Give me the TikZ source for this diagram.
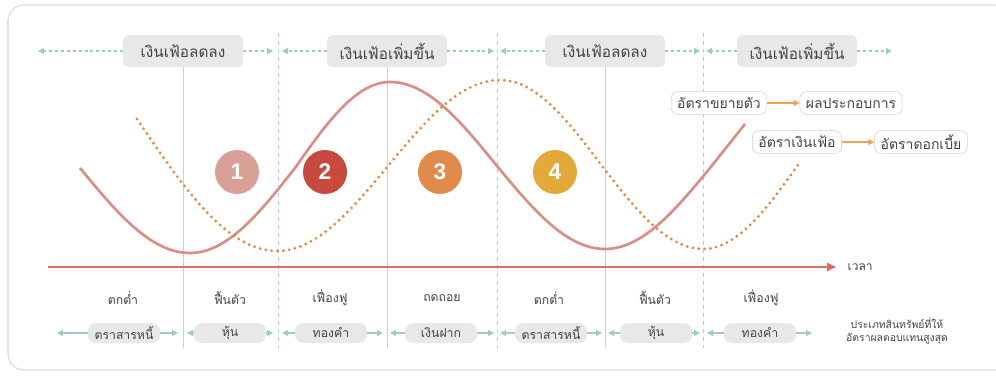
\documentclass[tikz,border=0pt]{standalone}
\usepackage{fontspec}
\setmainfont{Liberation Sans}
\newfontfamily\thaifont[Script=Thai]{Loma}
\newfontfamily\numfont{Liberation Sans}
\usetikzlibrary{arrows.meta}
\definecolor{txtgray}{HTML}{444444}
\definecolor{boxgray}{HTML}{E8E8E8}
\definecolor{linegray}{HTML}{CFCFCF}
\definecolor{sepblue}{HTML}{B9C9D2}
\definecolor{mint}{HTML}{9FCDB9}
\definecolor{growthred}{HTML}{D98E87}
\definecolor{inforange}{HTML}{E08A47}
\definecolor{axisred}{HTML}{DA6E66}
\definecolor{keyorange}{HTML}{F0A455}
\definecolor{phaseA}{HTML}{D9A097}
\definecolor{phaseB}{HTML}{C8493D}
\definecolor{phaseC}{HTML}{E08A4C}
\definecolor{phaseD}{HTML}{E2AA3B}

\begin{document}
\begin{tikzpicture}[x=0.75pt, y=-0.75pt, font=\thaifont, text=txtgray,
      >={Triangle[length=4.5pt,width=4.5pt]},
      phase/.style={fill=boxgray, rounded corners=4pt, minimum width=90pt, minimum height=24pt, font=\thaifont\fontsize{11.5}{13}\selectfont},
      asset/.style={fill=boxgray, rounded corners=6pt, minimum width=54pt, minimum height=15pt, inner sep=1pt, font=\thaifont\fontsize{9.2}{11}\selectfont},
      stage/.style={inner sep=0.5pt, font=\thaifont\fontsize{9.2}{11}\selectfont},
      keybox/.style={draw=linegray, fill=white, rounded corners=5pt, minimum height=17pt, inner xsep=4.5pt, inner ysep=1pt, font=\thaifont\fontsize{10.5}{12}\selectfont},
      num/.style={circle, minimum size=33pt, text=white, font=\numfont\bfseries\fontsize{17}{19}\selectfont},
      toparrow/.style={->, draw=mint, fill=mint, line width=0.8pt, dash pattern=on 2.2pt off 2.2pt},
      botarrow/.style={->, draw=mint, fill=mint, line width=0.8pt},
      solidsep/.style={draw=linegray, line width=0.6pt},
      dashsep/.style={draw=sepblue, line width=0.6pt, dash pattern=on 3pt off 3pt}]
    \useasboundingbox (0,0) rectangle (996,378);
    % frame
    \draw[linegray!80, line width=0.8pt, rounded corners=12pt] (8,5) rectangle (1010,370);
    % phase separators
    \draw[solidsep] (183,67) -- (183,348);
    \draw[solidsep] (387,67) -- (387,348);
    \draw[solidsep] (605,67) -- (605,348);
    \draw[dashsep] (278,33) -- (278,348);
    \draw[dashsep] (497,33) -- (497,348);
    \draw[dashsep] (703,33) -- (703,348);
    % inflation phases on top
    \node[phase] (top1) at (183,51) {เงินเฟ้อลดลง};
    \node[phase] (top2) at (387,51) {เงินเฟ้อเพิ่มขึ้น};
    \node[phase] (top3) at (605,51) {เงินเฟ้อลดลง};
    \node[phase] (top4) at (797,51) {เงินเฟ้อเพิ่มขึ้น};
    \coordinate (t1a) at (38,51);  \coordinate (t1b) at (273,51);
    \coordinate (t2a) at (282,51); \coordinate (t2b) at (494,51);
    \coordinate (t3a) at (500,51); \coordinate (t3b) at (700,51);
    \coordinate (t4a) at (706,51); \coordinate (t4b) at (892,51);
    \draw[toparrow] (top1.west) -- (t1a);
    \draw[toparrow] (top1.east) -- (t1b);
    \draw[toparrow] (top2.west) -- (t2a);
    \draw[toparrow] (top2.east) -- (t2b);
    \draw[toparrow] (top3.west) -- (t3a);
    \draw[toparrow] (top3.east) -- (t3b);
    \draw[toparrow] (top4.west) -- (t4a);
    \draw[toparrow] (top4.east) -- (t4b);
    % growth and inflation curves
    \draw[growthred, line width=2pt] (80,168) sin (190,253) cos (295,168) sin (390,82)
      cos (497,166) sin (605,249) cos (710,168) -- (745,124);
    \draw[inforange, line width=2.4pt, line cap=round, dash pattern=on 0pt off 4.4pt]
      (137,119) sin (277,251) cos (388,166) sin (500,80) cos (602,166) sin (703,249) cos (800,162);
    % cycle stages
    \node[num, fill=phaseA] (n1) at (237,172) {1};
    \node[num, fill=phaseB] (n2) at (325,172) {2};
    \node[num, fill=phaseC] (n3) at (440,172) {3};
    \node[num, fill=phaseD] (n4) at (555,172) {4};
    % key
    \node[keybox] (k1) at (719,103) {อัตราขยายตัว};
    \node[keybox] (k2) at (851,103) {ผลประกอบการ};
    \node[keybox] (k3) at (797,142) {อัตราเงินเฟ้อ};
    \node[keybox] (k4) at (921,142) {อัตราดอกเบี้ย};
    \draw[->, keyorange, line width=1pt] (k1) -- (k2);
    \draw[->, keyorange, line width=1pt] (k3) -- (k4);
    % time axis
    \coordinate (t0) at (48,267);
    \node[anchor=west, font=\thaifont\fontsize{9}{10}\selectfont] (time) at (843,267) {เวลา};
    \draw[axisred, line width=2.2pt, -{Triangle[length=7pt,width=6pt]}, shorten >=5pt] (t0) -- (time.west);
    % economic stages
    \node[stage] (s1) at (123,298) {ตกต่ำ};
    \node[stage] (s2) at (230,298) {ฟื้นตัว};
    \node[stage] (s3) at (330,298) {เฟื่องฟู};
    \node[stage] (s4) at (442,298) {ถดถอย};
    \node[stage] (s5) at (549,298) {ตกต่ำ};
    \node[stage] (s6) at (655,298) {ฟื้นตัว};
    \node[stage] (s7) at (761,298) {เฟื่องฟู};
    % best assets
    \node[asset] (a1) at (124,333) {ตราสารหนี้};
    \node[asset] (a2) at (230,333) {หุ้น};
    \node[asset] (a3) at (331,333) {ทองคำ};
    \node[asset] (a4) at (441,333) {เงินฝาก};
    \node[asset] (a5) at (551,333) {ตราสารหนี้};
    \node[asset] (a6) at (656,333) {หุ้น};
    \node[asset] (a7) at (760,333) {ทองคำ};
    \coordinate (a1l) at (57,333);  \coordinate (a1r) at (178,333);
    \coordinate (a2l) at (187,333); \coordinate (a2r) at (273,333);
    \coordinate (a3l) at (282,333); \coordinate (a3r) at (383,333);
    \coordinate (a4l) at (390,333); \coordinate (a4r) at (494,333);
    \coordinate (a5l) at (500,333); \coordinate (a5r) at (602,333);
    \coordinate (a6l) at (608,333); \coordinate (a6r) at (700,333);
    \coordinate (a7l) at (707,333); \coordinate (a7r) at (812,333);
    \draw[botarrow] (a1.west) -- (a1l);
    \draw[botarrow] (a1.east) -- (a1r);
    \draw[botarrow] (a2.west) -- (a2l);
    \draw[botarrow] (a2.east) -- (a2r);
    \draw[botarrow] (a3.west) -- (a3l);
    \draw[botarrow] (a3.east) -- (a3r);
    \draw[botarrow] (a4.west) -- (a4l);
    \draw[botarrow] (a4.east) -- (a4r);
    \draw[botarrow] (a5.west) -- (a5l);
    \draw[botarrow] (a5.east) -- (a5r);
    \draw[botarrow] (a6.west) -- (a6l);
    \draw[botarrow] (a6.east) -- (a6r);
    \draw[botarrow] (a7.west) -- (a7l);
    \draw[botarrow] (a7.east) -- (a7r);
    \node[align=center, font=\thaifont\fontsize{7.8}{9.5}\selectfont, inner sep=0pt] (best) at (897,331)
      {ประเภทสินทรัพย์ที่ให้\\อัตราผลตอบแทนสูงสุด};
  \end{tikzpicture}
\end{document}
